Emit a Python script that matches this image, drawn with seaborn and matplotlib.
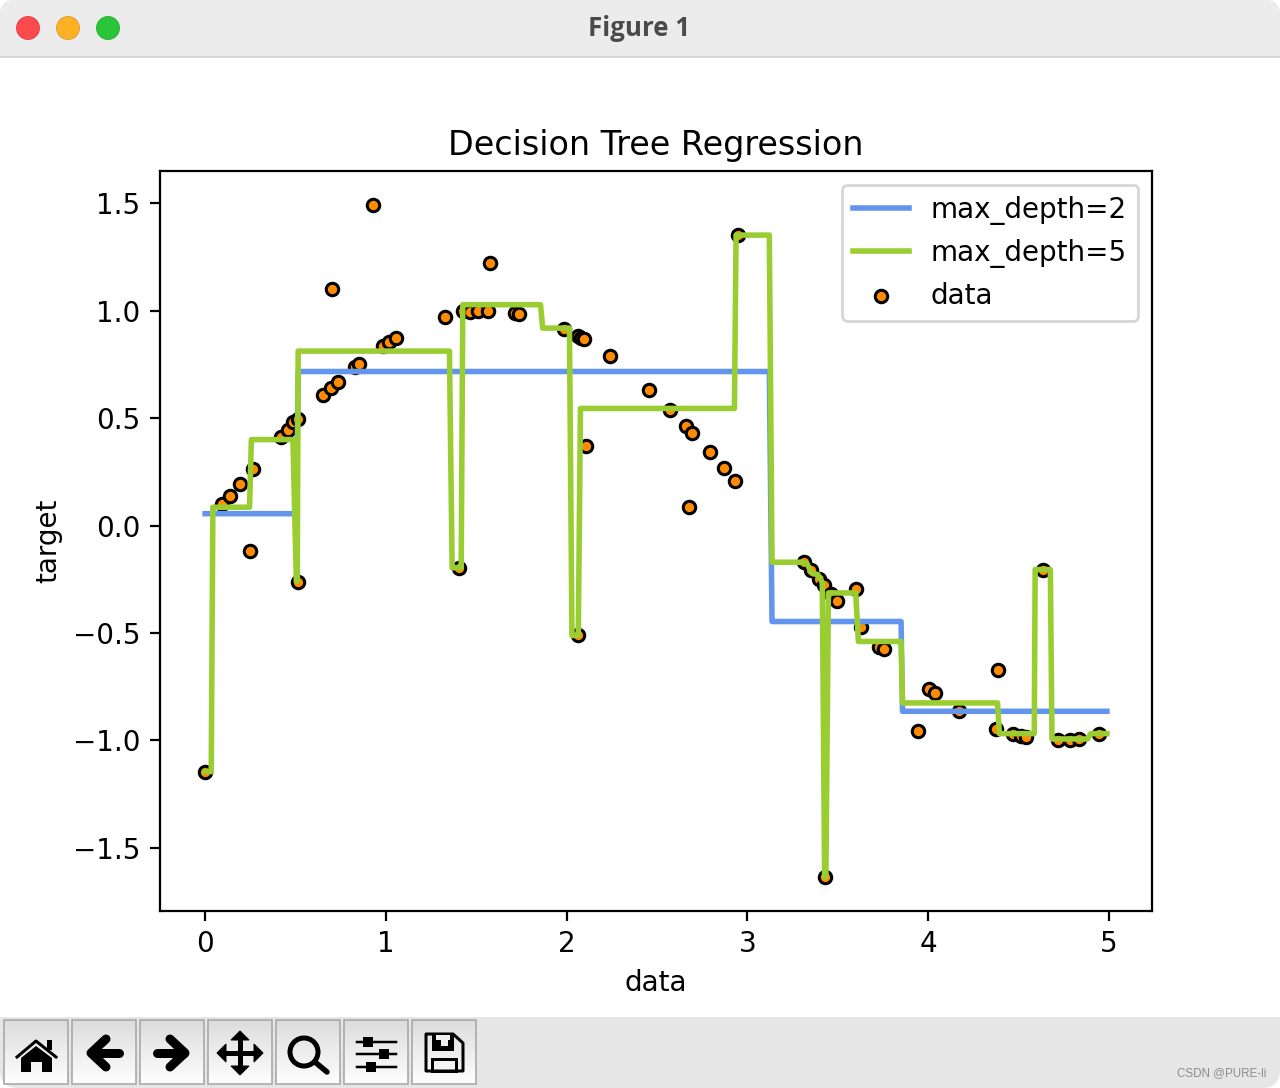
"""
Decision Tree Regression - window screenshot recreation
"""

import matplotlib
matplotlib.use('Agg')
import matplotlib.pyplot as plt
from matplotlib.patches import Circle, FancyBboxPatch, Polygon, Rectangle
import numpy as np
import pandas as pd
import seaborn as sns

# scatter points
data_x = [0.0, 0.091, 0.136, 0.192, 0.248, 0.264, 0.421, 0.458, 0.486, 0.513,
          0.513, 0.652, 0.694, 0.701, 0.735, 0.827, 0.851, 0.928, 0.983, 1.020,
          1.058, 1.325, 1.404, 1.426, 1.465, 1.509, 1.565, 1.575, 1.717, 1.736,
          1.985, 2.066, 2.066, 2.081, 2.095, 2.108, 2.239, 2.455, 2.571, 2.663,
          2.676, 2.693, 2.792, 2.869, 2.930, 2.947, 3.316, 3.353, 3.395, 3.426,
          3.428, 3.463, 3.494, 3.600, 3.630, 3.727, 3.754, 3.942, 4.003, 4.038,
          4.169, 4.376, 4.390, 4.468, 4.514, 4.542, 4.634, 4.722, 4.787, 4.838,
          4.944]
data_y = [-1.146, 0.098, 0.136, 0.194, -0.121, 0.264, 0.413, 0.444, 0.480, 0.497,
          -0.261, 0.609, 0.638, 1.102, 0.669, 0.737, 0.753, 1.494, 0.838, 0.854,
          0.874, 0.973, -0.200, 0.997, 0.995, 0.997, 1.000, 1.220, 0.991, 0.986,
          0.916, 0.880, -0.512, 0.874, 0.866, 0.371, 0.787, 0.632, 0.539, 0.461,
          0.084, 0.432, 0.343, 0.269, 0.208, 1.351, -0.171, -0.208, -0.248, -0.279,
          -1.636, -0.321, -0.351, -0.295, -0.472, -0.565, -0.574, -0.956, -0.760, -0.779,
          -0.862, -0.947, -0.672, -0.969, -0.978, -0.987, -0.205, -0.997, -0.997, -0.993,
          -0.973]

# prediction lines, only the corners of each step
depth2_x = [0.0, 0.505, 0.515, 3.122, 3.137, 3.851, 3.859, 4.99]
depth2_y = [0.055, 0.055, 0.717, 0.717, -0.447, -0.447, -0.865, -0.865]

depth5_x = [0.0, 0.034, 0.043, 0.246, 0.256, 0.486, 0.505, 0.510, 0.515, 1.352,
            1.367, 1.417, 1.426, 1.856, 1.868, 2.016, 2.030, 2.065, 2.077, 2.929,
            2.938, 3.122, 3.137, 3.305, 3.330, 3.360, 3.390, 3.410, 3.415, 3.428,
            3.435, 3.449, 3.600, 3.615, 3.851, 3.859, 4.385, 4.395, 4.588, 4.593,
            4.677, 4.686, 4.883, 4.901, 4.99]
depth5_y = [-1.146, -1.146, 0.085, 0.085, 0.400, 0.400, -0.260, -0.260, 0.812, 0.812,
            -0.197, -0.197, 1.028, 1.028, 0.919, 0.919, -0.512, -0.512, 0.545, 0.545,
            1.352, 1.352, -0.171, -0.171, -0.178, -0.224, -0.228, -0.256, -0.270, -1.636,
            -1.636, -0.314, -0.314, -0.540, -0.540, -0.826, -0.826, -0.969, -0.969, -0.205,
            -0.205, -0.994, -0.994, -0.969, -0.969]

PX = 72 / 200  # points per pixel at this dpi
ICON = dict(color='black', zorder=5)


def draw_icons(bg):
    # home
    bg.add_patch(Polygon([(21, 1072), (21, 1058), (36, 1046), (52, 1058), (52, 1072),
                          (42, 1072), (42, 1062), (31, 1062), (31, 1072)], lw=0, **ICON))
    bg.plot([17, 36, 56], [1057, 1041, 1057], lw=3 * PX, **ICON)
    bg.add_patch(Rectangle((47, 1040), 5, 10, lw=0, **ICON))

    # back / forward
    bg.plot([106, 91, 106], [1039, 1053, 1067], lw=9 * PX,
            solid_capstyle='round', solid_joinstyle='round', **ICON)
    bg.plot([92, 119], [1053, 1053], lw=9 * PX, solid_capstyle='round', **ICON)
    bg.plot([170, 185, 170], [1039, 1053, 1067], lw=9 * PX,
            solid_capstyle='round', solid_joinstyle='round', **ICON)
    bg.plot([157, 184], [1053, 1053], lw=9 * PX, solid_capstyle='round', **ICON)

    # move
    bg.plot([222, 258], [1053, 1053], lw=5 * PX, **ICON)
    bg.plot([240, 240], [1036, 1070], lw=5 * PX, **ICON)
    for tip, base_a, base_b in [((217, 1053), (226, 1044), (226, 1062)),
                                ((263, 1053), (254, 1044), (254, 1062)),
                                ((240, 1031), (231, 1040), (249, 1040)),
                                ((240, 1075), (231, 1066), (249, 1066))]:
        bg.add_patch(Polygon([tip, base_a, base_b], lw=1 * PX, **ICON))

    # zoom
    bg.add_patch(Circle((304, 1052), 14, fill=False, edgecolor='black', lw=5 * PX, zorder=5))
    bg.plot([315, 327], [1062, 1072], lw=5.5 * PX, solid_capstyle='round', **ICON)

    # sliders
    for y, knob in [(1042, 368), (1054, 384), (1067, 371)]:
        bg.plot([357, 396], [y, y], lw=2.5 * PX, **ICON)
        bg.add_patch(Rectangle((knob - 5, y - 5), 10, 10, lw=0, **ICON))

    # save
    bg.add_patch(Polygon([(426, 1034), (453, 1034), (463, 1043), (463, 1071), (426, 1071)],
                         facecolor='none', edgecolor='black', lw=3 * PX, joinstyle='round', zorder=5))
    bg.add_patch(Polygon([(432, 1034), (454, 1034), (454, 1051), (432, 1051)], lw=0, **ICON))
    bg.add_patch(Rectangle((436, 1035), 14, 5, color='#efefef', lw=0, zorder=6))
    bg.add_patch(Rectangle((441, 1036), 7, 10, color='#efefef', lw=0, zorder=6))
    bg.add_patch(Rectangle((432, 1059), 24, 12, facecolor='none', edgecolor='black', lw=3 * PX, zorder=5))


def draw_window(fig):
    bg = fig.add_axes([0, 0, 1, 1], zorder=-1)
    bg.axis('off')

    # title bar and toolbar with round corners, white canvas over them
    bg.add_patch(FancyBboxPatch((0, 0), 1280, 90, boxstyle='round,pad=0,rounding_size=14',
                                facecolor='#ececec', edgecolor='none', zorder=1))
    bg.add_patch(FancyBboxPatch((0, 990), 1280, 98, boxstyle='round,pad=0,rounding_size=18',
                                facecolor='#e6e6e6', edgecolor='none', zorder=1))
    bg.add_patch(Rectangle((0, 56.5), 1280, 960, facecolor='white', edgecolor='none', zorder=2))
    bg.plot([0, 1280], [56.5, 56.5], color='#cfcfcf', lw=1.5 * PX, zorder=3)

    for cx, face, edge in [(28, '#fd4a4c', '#e23b3d'), (68, '#feb024', '#e0952a'),
                           (108, '#29c536', '#24a92e')]:
        bg.add_patch(Circle((cx, 28), 11.5, facecolor=face, edgecolor=edge, lw=0.8 * PX, zorder=3))
    bg.text(639, 28, 'Figure 1', ha='center', va='center', fontsize=9.3, fontweight='bold',
            family='Open Sans', color='#4a4a4a', zorder=3)

    # toolbar buttons
    gradient = np.linspace(0, 1, 64).reshape(-1, 1)
    for left in [4, 72, 140, 208, 276, 344, 412]:
        bg.imshow(gradient, extent=(left, left + 64, 1084, 1020), cmap='gray', vmin=-6.5, vmax=1.05,
                  aspect='auto', zorder=3)
        bg.add_patch(Rectangle((left, 1020), 64, 64, facecolor='none', edgecolor='#a3a3a3',
                               lw=1.5 * PX, zorder=4))
    draw_icons(bg)

    bg.text(1266, 1073.5, 'CSDN @PURE-li', ha='right', va='center', fontsize=4.2,
            family='Liberation Sans', color='#8c8c8c', zorder=6)
    bg.set_xlim(0, 1280)
    bg.set_ylim(1088, 0)


if __name__ == '__main__':
    fig = plt.figure(figsize=(6.4, 5.44), dpi=200)
    draw_window(fig)

    ax = fig.add_axes([160 / 1280, (1088 - 910.5) / 1088, 992 / 1280, 739.5 / 1088])

    points = pd.DataFrame({'x': data_x, 'y': data_y})
    tree2 = pd.DataFrame({'x': depth2_x, 'y': depth2_y})
    tree5 = pd.DataFrame({'x': depth5_x, 'y': depth5_y})

    sns.lineplot(data=tree2, x='x', y='y', sort=False, estimator=None, color='cornflowerblue',
                 linewidth=2, label='max_depth=2', ax=ax, zorder=2)
    sns.lineplot(data=tree5, x='x', y='y', sort=False, estimator=None, color='yellowgreen',
                 linewidth=2, label='max_depth=5', ax=ax, zorder=2)
    sns.scatterplot(data=points, x='x', y='y', s=20, color='darkorange', edgecolor='black',
                    linewidth=1.1, label='data', ax=ax, zorder=1)

    ax.set_xlabel('data')
    ax.set_ylabel('target')
    ax.set_title('Decision Tree Regression', pad=5.6)
    ax.legend()

    fig.savefig('out.png', dpi=200)
    plt.close(fig)
